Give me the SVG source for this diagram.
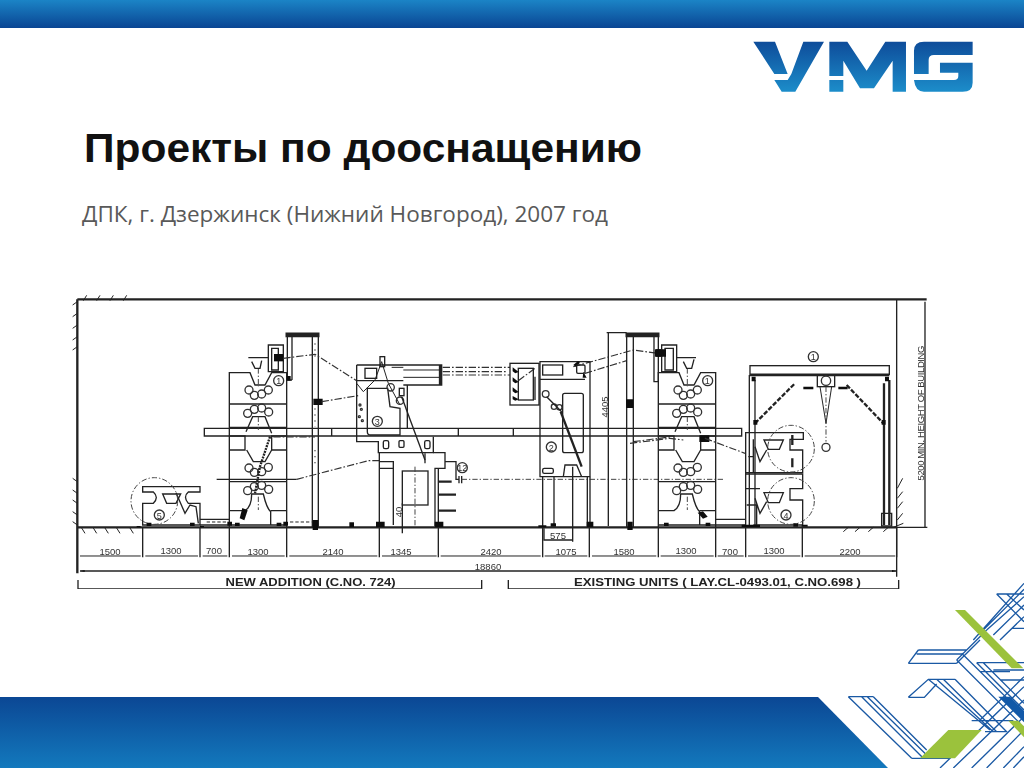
<svg xmlns="http://www.w3.org/2000/svg" xmlns:xlink="http://www.w3.org/1999/xlink" width="1024" height="768" viewBox="0 0 1024 768">
<style>
.l{fill:none;stroke:#222;stroke-width:4}
.t{fill:none;stroke:#222;stroke-width:3}
.h{fill:none;stroke:#222;stroke-width:7}
.d{fill:none;stroke:#333;stroke-width:3.5;stroke-dasharray:22 6 5 6}
.c{fill:none;stroke:#444;stroke-width:3;stroke-dasharray:16 6 4 6}
.k{fill:#111;stroke:none}
.w{fill:#fff;stroke:#222;stroke-width:4}
.r{fill:none;stroke:#333;stroke-width:4}
.dim{font:9.5px "Liberation Sans",Arial,sans-serif;fill:#333;text-anchor:middle}
.num{font:9px "Liberation Sans",Arial,sans-serif;fill:#333;text-anchor:middle}
.cap{font:bold 10px "Liberation Sans",Arial,sans-serif;fill:#222}
.lat{fill:none;stroke:#1a59a4;stroke-width:4}
</style>
<defs>
<linearGradient id="gt" x1="0" y1="0" x2="0" y2="1"><stop offset="0" stop-color="#1b84c6"/><stop offset="1" stop-color="#0a4593"/></linearGradient>
<linearGradient id="gb" x1="0" y1="0" x2="0" y2="1"><stop offset="0" stop-color="#0b4794"/><stop offset="1" stop-color="#1379bd"/></linearGradient>
<linearGradient id="gl" gradientUnits="userSpaceOnUse" x1="0" y1="125" x2="0" y2="275"><stop offset="0" stop-color="#0e4c9a"/><stop offset="1" stop-color="#1c8dca"/></linearGradient>
<filter id="soft" x="0" y="0" width="1" height="1"><feGaussianBlur stdDeviation="0.35"/></filter>
<g id="press">
<path class="l" d="M478,712V248H540L555,285H585L605,248H650V712M478,342H650M478,438H525V480H478M650,438H605V480H650M478,412H650"/>
<path class="l" d="M528,425L548,380H585L605,430M530,480L550,515H585L605,480M478,575H650"/>
<path class="l" d="M478,662H525Q545,650 545,612H580Q590,655 602,665V705M650,662H602M478,705H650"/>
<g class="r">
<circle cx="537" cy="300" r="12"/><circle cx="553" cy="316" r="12"/><circle cx="575" cy="312" r="12"/><circle cx="595" cy="300" r="12"/>
<circle cx="533" cy="370" r="12"/><circle cx="553" cy="358" r="12"/><circle cx="575" cy="354" r="12"/><circle cx="596" cy="366" r="12"/>
<circle cx="537" cy="534" r="12"/><circle cx="553" cy="547" r="12"/><circle cx="575" cy="545" r="12"/><circle cx="595" cy="532" r="12"/>
<circle cx="533" cy="602" r="12"/><circle cx="553" cy="590" r="12"/><circle cx="575" cy="586" r="12"/><circle cx="596" cy="598" r="12"/>
<circle cx="626" cy="272" r="15"/>
</g>
<path class="c" d="M565,235V290M565,380V420M565,620V660"/>
<path class="k" d="M495,698h14v10h-14zM620,698h14v10h-14z"/>
</g>
<g id="tower">
<path class="h" d="M650,131H745V138H650Z"/>
<path class="l" d="M652,138V270M666,138V270M652,270H666M727,138V712M745,138V712"/>
<path class="k" d="M730,326h28v19h-28zM650,258h12v14h-12zM728,690h16v30h-16z"/>
<path class="t" stroke-dasharray="4 14" d="M735,160V205M735,355V410M735,480V520"/>
</g>
<g id="head">
<path class="l" d="M535,203H595M595,165H640V245H595ZM605,175H625V240H605ZM545,215L555,235H570L575,212"/>
<path class="k" d="M612,192h28v22h-28z"/>
</g>
</defs>

<rect id="top-bar" x="0" y="0" width="1024" height="28" fill="url(#gt)"/>
<path id="bottom-bar" d="M0,697H818L888,768H0Z" fill="url(#gb)"/>

<g id="logo" transform="translate(740 0) scale(.3333)" fill="url(#gl)">
<path d="M40,125H105L143,222H103ZM190,125H252L166,275H125L103,240H143L154,222Z"/>
<path d="M268,125H322L380,212L436,125H498V275H458V182L402,265H360L310,182V228H268ZM268,240H310V275H268Z"/>
<path d="M522,152Q522,125 552,125H698V165H582Q566,165 566,180V222H522ZM600,188H698V248Q698,275 668,275H552Q526,275 522,240H642Q655,240 655,228V218H600Z"/>
</g>

<text id="title" x="84" y="162" font-family="Liberation Sans, Arial, sans-serif" font-weight="700" font-size="40" fill="#111" textLength="558" lengthAdjust="spacingAndGlyphs">Проекты по дооснащению</text>
<text id="subtitle" x="82" y="222" font-family="Open Sans, Liberation Sans, sans-serif" font-size="21" fill="#595959" textLength="526" lengthAdjust="spacingAndGlyphs">ДПК, г. Дзержинск (Нижний Новгород), 2007 год</text>

<g id="drawing" filter="url(#soft)">
<g transform="translate(70 290) scale(.33333)">
<g id="frame">
<path class="h" d="M22,28H2570M22,28V850M22,712H2480"/>
<path class="l" d="M2480,28V860M2565,35V712M2480,712H2572"/>
<path class="t" d="M40,32L50,16M80,32L90,16M120,32L130,16M160,32L170,16M22,35L8,45M22,70L8,80M22,105L8,115M22,140L8,150M22,170L8,180M22,575L8,565M22,610L8,600M22,640L8,630M22,675L8,665M22,705L8,695M35,714L45,730M70,714L80,730M105,714L115,730M140,714L150,730M180,714L190,730"/>
<path class="t" d="M2320,725L2335,712M2355,725L2370,712M2395,725L2410,712M2440,725L2455,712M2470,712L2500,700M2482,690L2498,670M2482,655L2498,635M2482,625L2498,605M2482,595L2498,565"/>
<path class="k" d="M200,708h12v4h-12zM390,708h12v4h-12z"/>
</g>
<g id="dimensions">
<path class="l" d="M218,712V802M390,712V802M478,712V802M650,712V802M928,712V802M1105,712V802M1418,712V802M1558,712V802M1765,712V802M1937,712V802M2027,712V802M2197,712V802M2480,712V802"/>
<path class="t" d="M30,798H212M226,798H384M398,798H472M486,798H644M658,798H922M936,798H1100M1112,798H1412M1424,798H1552M1566,798H1759M1772,798H1931M1943,798H2021M2034,798H2191M2204,798H2476"/>
<path class="l" d="M30,843H2480"/>
<path class="l" d="M24,870V897H1235V870M1315,870V897H2486V870"/>
<path class="k" d="M30,843l14,-3v6zM2480,843l-14,-3v6z"/>
</g>

<g id="platform">
<path class="l" d="M403,415H2015V438H403ZM785,415V438M1165,415V438M1330,415V438"/>
</g>

<g id="unit-1-new">
<use xlink:href="#press" href="#press"/>
<use xlink:href="#tower" href="#tower"/>
<use xlink:href="#head" href="#head"/>
<path class="h" stroke-dasharray="6 3" d="M600,440L570,530L555,610"/>
<path class="k" d="M517,654l16,7l-10,30l-14,-6z"/>
<path class="l" d="M440,568H680"/>
<path class="d" d="M640,205L735,193L860,272M755,335L870,316M610,441H735"/>
<path class="d" d="M680,568L895,512H930"/>
</g>

<g id="unit-5">
<path class="l" d="M218,590H390V606H355Q338,620 355,640H390V705H218V640H250Q268,622 250,606H218Z"/>
<path class="w" d="M278,612H332L318,640H290Z"/>
<path class="l" d="M318,608L345,670L360,645L378,650L385,700"/>
<circle class="c" cx="253" cy="633" r="70"/>
<circle class="r" cx="268" cy="675" r="15"/>
<path class="l" d="M390,688H478M390,705H478"/>
<path class="t" stroke-dasharray="10 6" d="M410,696H470M660,696H725"/>
<path class="k" d="M230,698h14v10h-14zM360,698h14v10h-14zM472,695h14v12h-14zM640,695h14v12h-14z"/>
</g>

<g transform="translate(840 0)">
<g id="unit-3">
<path class="l" d="M20,225V455H85V488H250V440M20,225H160M20,272H160M160,225H275V285H160M172,285V415"/>
<path class="l" d="M52,295V425Q52,435 62,435H150V355L120,350L113,295Z"/>
<rect class="l" x="45" y="235" width="35" height="30"/>
<path class="t" d="M160,240H275M160,262H275M125,232H160M20,280L40,305L75,270L95,215L115,280L150,345"/>
<rect class="l" x="90" y="200" width="14" height="30"/>
<rect class="l" x="148" y="295" width="14" height="22"/>
<path class="h" d="M270,225V285"/>
<circle class="r" cx="122" cy="292" r="11"/><circle class="r" cx="150" cy="332" r="11"/>
<path class="l" d="M155,320L225,510"/>
<circle class="r" cx="82" cy="394" r="15"/>
<g class="r"><circle cx="30" cy="345" r="3"/><circle cx="34" cy="358" r="3"/><circle cx="28" cy="380" r="3"/><circle cx="37" cy="392" r="3"/></g>
<rect class="l" x="100" y="452" width="16" height="24" rx="5"/><rect class="l" x="147" y="452" width="15" height="20" rx="3"/><rect class="l" x="224" y="452" width="16" height="24" rx="5"/>
<path class="l" d="M88,488V712M88,515H130V705M250,488H285V535H255V708M265,535V708M88,535H130"/>
<rect class="l" x="157" y="543" width="77" height="102"/>
<path class="c" d="M195,530V710"/>
<path class="l" d="M157,640V730M225,490V520"/>
<path class="h" d="M265,575H305M265,614H318M265,662H318"/>
<path class="l" d="M285,515H318V568H327M327,558V580M335,558V580"/>
<circle class="r" cx="337" cy="533" r="15"/>
<path class="k" d="M78,695h26v16h-26zM254,695h26v16h-26zM-2,697h14v14h-14z"/>
</g>
<g id="web-3-2">
<path class="d" d="M278,232H480M278,255H480M505,272L555,235M278,245H470"/>
<path class="d" d="M670,230L850,180L925,190M705,250L830,212M850,455L965,440"/>
<path class="c" d="M335,568H1120"/>
</g>
<g id="unit-2">
<path class="l" d="M570,215H720V560H570ZM570,268H705"/>
<rect class="l" x="638" y="310" width="62" height="178" rx="6"/>
<rect class="l" x="578" y="225" width="60" height="30"/>
<rect class="l" x="480" y="220" width="87" height="125"/>
<rect class="l" x="505" y="235" width="45" height="95"/>
<path class="k" d="M488,232l18,14l-10,4l-8,-6zM488,262l18,14l-10,4l-8,-6zM488,292l18,14l-10,4l-8,-6zM488,318l18,10l-10,4l-8,-4zM670,225l14,-12l6,5l-12,12zM700,245l10,18h-12z"/>
<rect class="l" x="680" y="225" width="25" height="25" rx="4"/>
<circle class="r" cx="587" cy="312" r="10"/><circle class="r" cx="612" cy="350" r="8"/><circle class="r" cx="628" cy="352" r="8"/>
<path class="h" d="M632,365L695,530"/>
<path class="l" d="M590,320L635,365M555,260V330M640,560L645,525H680L695,560"/>
<circle class="r" cx="604" cy="471" r="15"/>
<rect class="l" x="578" y="535" width="32" height="15" rx="5"/>
<path class="l" d="M578,560V708M612,560V708M712,560V708M720,560V708"/>
<path class="k" d="M565,706h24v6h-24zM602,700h16v10h-16zM710,695h20v16h-20z"/>
<path class="l" d="M582,715V750H668M668,530V755"/>
</g>
<g id="tower-2">
<path class="l" d="M770,128H830M775,128V708"/>
<path class="h" d="M830,131H925V138H830Z"/>
<path class="l" d="M830,138V712M850,138V712M912,138V275H925V138"/>
<path class="k" d="M828,328h22v26h-22zM832,695h16v25h-16zM915,178h22v22h-22z"/>
</g>
</g>

<g transform="translate(1650 0)">
<g id="unit-1-existing" transform="translate(-363 0)">
<use xlink:href="#press" href="#press"/>
</g>
<g id="head-2">
<path class="l" d="M115,185H125M125,165H170V245H125ZM135,175H160V240H135ZM170,203H228M190,215L200,235H215L222,208"/>
<path class="k" d="M108,178h30v22h-30zM238,436h30v20h-30zM233,668l16,-4l14,16l-14,6z"/>
<path class="d" d="M30,460L150,445L190,450M255,445L375,490"/>
</g>
<g id="unit-4">
<path class="l" d="M377,428H550V448H510V480H548V548H377ZM377,428V705M400,448V548"/>
<path class="w" d="M432,450H490L478,478H445Z"/>
<path class="l" d="M405,470L420,515L440,480M385,500H400"/>
<path class="l" d="M377,552H548V596H510V630H548V705H400M377,596H420"/>
<path class="w" d="M432,608H490L478,638H445Z"/>
<path class="l" d="M405,625L420,670L440,635M380,645H410V705"/>
<circle class="c" cx="513" cy="476" r="70"/>
<circle class="c" cx="513" cy="633" r="70"/>
<circle class="r" cx="498" cy="675" r="15"/>
<path class="h" d="M517,435V465M517,505V532"/>
<path class="l" d="M288,688H377M288,705H377"/>
<path class="k" d="M365,704h55v7h-55zM520,700h14v10h-14zM545,704h18v6h-18z"/>
</g>
<g id="crane">
<rect class="l" x="390" y="227" width="418" height="26"/>
<path class="h" d="M390,255H808"/>
<path class="l" d="M388,255V705M405,270V705"/>
<path class="h" d="M792,280V705M808,270V705"/>
<path class="l" d="M785,670H815V708H785Z"/>
<rect class="l" x="592" y="255" width="52" height="35"/>
<circle class="r" cx="618" cy="272" r="14"/>
<path class="t" d="M600,290L618,400L635,290"/>
<path class="c" d="M618,290V455"/>
<circle class="r" cx="618" cy="472" r="12"/>
<path class="h" stroke-dasharray="14 5" d="M405,400L525,280M680,285L790,400"/>
<path class="k" d="M550,290h30v8h-30zM655,290h28v8h-28zM400,390h12v14h-12zM785,390h12v14h-12z"/>
<circle class="r" cx="580" cy="200" r="15"/>
<path class="k" d="M395,260h12v14h-12zM795,260h12v14h-12z"/>
</g>
</g>
</g>

<g id="labels">
<text class="dim" x="110" y="555">1500</text><text class="dim" x="171" y="554">1300</text><text class="dim" x="214" y="554">700</text><text class="dim" x="258" y="555">1300</text><text class="dim" x="333" y="555">2140</text><text class="dim" x="401" y="555">1345</text><text class="dim" x="491" y="555">2420</text><text class="dim" x="566" y="555">1075</text><text class="dim" x="624" y="555">1580</text><text class="dim" x="686" y="554">1300</text><text class="dim" x="730" y="555">700</text><text class="dim" x="774" y="554">1300</text><text class="dim" x="850" y="555">2200</text>
<text class="dim" x="488" y="570">18860</text>
<text class="dim" x="558" y="539">575</text>
<text class="dim" transform="translate(608 407) rotate(-90)">4405</text>
<text class="dim" transform="translate(402 512) rotate(-90)">40</text>
<text class="num" x="278.7" y="384">1</text><text class="num" x="377.3" y="425">3</text><text class="num" x="159.3" y="518.5">5</text><text class="num" x="551.3" y="450.5">2</text><text class="num" x="462.3" y="471">12</text><text class="num" x="707.3" y="384">1</text><text class="num" x="813.3" y="360">1</text><text class="num" x="786" y="518.5">4</text>
<text class="cap" x="225.5" y="586" textLength="170" lengthAdjust="spacingAndGlyphs">NEW ADDITION (C.NO. 724)</text>
<text class="cap" x="574" y="586" textLength="287" lengthAdjust="spacingAndGlyphs">EXISTING UNITS ( LAY.CL-0493.01, C.NO.698 )</text>
<text class="dim" transform="translate(924 413) rotate(-90)" textLength="135" lengthAdjust="spacing">5200 MIN. HEIGHT OF BUILDING</text>
</g>
</g>

<g id="lattice" transform="translate(780 580) scale(.33333)">
<path class="lat" d="M650,42H732M650,42L732,125M680,42L732,90M600,160L732,28M620,150L732,50M640,165L732,75M695,145H732M660,180L732,110M580,180L732,10"/>
<path class="lat" d="M415,210H560L530,240M385,250H530M415,210L385,250M410,222H550M590,248H732M590,248L732,390M610,248L732,370M530,240L720,430M545,220L732,405M600,275H690M530,250L600,180M560,210L620,150M640,270H732M660,300H732"/>
<path class="lat" d="M385,352L445,298H525M385,352H433L470,312M445,298L630,450M490,298L650,455M525,298L680,455M575,422H700M615,455H682M470,298L640,455"/>
<path class="lat" d="M205,350H280M205,350L395,535M245,350L430,535M262,350L440,525M280,350L440,510M395,535H510"/>
<path class="lat" d="M480,564L732,320M520,564L732,360M575,564L732,410M620,564L732,450M670,564L732,500M700,564L732,530M600,420L732,290"/>
<path fill="#9bc23c" d="M525,90H555L730,265H695Z"/>
<path fill="#9bc23c" d="M505,450H605L525,535H420Z"/>
<path fill="#9bc23c" d="M685,422H715L735,442V475Z"/>
<path fill="#1259a8" d="M655,350H690L735,395V430Z"/>
</g>
</svg>
